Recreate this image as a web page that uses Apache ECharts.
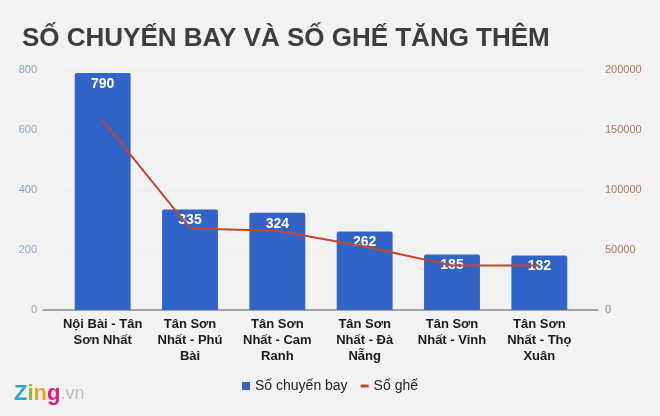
<!DOCTYPE html>
<html>
<head>
<meta charset="utf-8">
<script src="https://cdn.jsdelivr.net/npm/echarts@6/dist/echarts.min.js"></script>
<style>
  html, body { margin: 0; padding: 0; background: #f2f2f2; }
  #chart { width: 660px; height: 416px; }
</style>
</head>
<body>
<div id="chart"></div>
<script>
// dữ liệu
const categories = [
    'Nội Bài - Tân\nSơn Nhất',
    'Tân Sơn\nNhất - Phú\nBài',
    'Tân Sơn\nNhất - Cam\nRanh',
    'Tân Sơn\nNhất - Đà\nNẵng',
    'Tân Sơn\nNhất - Vinh',
    'Tân Sơn\nNhất - Thọ\nXuân'
];
const flights = [790, 335, 324, 262, 185, 182];   // Số chuyến bay
const seats = [158000, 68000, 66000, 53000, 37000, 37000]; // Số ghế

const FONT = 'Liberation Sans, Arial, sans-serif';

const chart = echarts.init(document.getElementById('chart'));

chart.setOption({
    backgroundColor: '#f2f2f2',
    animation: false,
    textStyle: { fontFamily: FONT },
    title: {
        text: 'SỐ CHUYẾN BAY VÀ SỐ GHẾ TĂNG THÊM',
        left: 17,
        top: 21,
        textStyle: { fontFamily: FONT, fontSize: 26, fontWeight: 'bold', color: '#3d3d3d' }
    },
    legend: {
        data: [
            { name: 'Số chuyến bay', icon: 'rect' },
            { name: 'Số ghế', icon: 'path://M0,0h8v3h-8z' }
        ],
        bottom: 18,
        left: 'center',
        itemWidth: 8,
        itemHeight: 8,
        itemGap: 13,
        textStyle: { fontFamily: FONT, fontSize: 14, color: '#222' }
    },
    grid: [
        { left: 59, right: 77, top: 70, bottom: 106 },
        { left: 43, right: 62, top: 70, bottom: 106 }
    ],
    xAxis: [
        {
            type: 'category',
            gridIndex: 0,
            data: categories,
            axisLine: { show: false },
            axisTick: { show: false },
            axisLabel: {
                interval: 0,
                margin: 6,
                fontFamily: FONT,
                fontSize: 13,
                fontWeight: 'bold',
                lineHeight: 16,
                color: '#1a1a1a'
            }
        },
        {
            // chỉ để vẽ đường trục dài hơn vùng cột
            type: 'value',
            gridIndex: 1,
            min: 0,
            max: 1,
            axisLine: { show: true, onZero: false, lineStyle: { color: '#8c8c8c', width: 1.5 } },
            axisTick: { show: false },
            axisLabel: { show: false },
            splitLine: { show: false }
        }
    ],
    yAxis: [
        {
            type: 'value',
            gridIndex: 0,
            min: 0,
            max: 800,
            interval: 200,
            axisLine: { show: false },
            axisTick: { show: false },
            axisLabel: { margin: 22, fontFamily: FONT, fontSize: 11, color: '#8aa5d3' },
            splitLine: { lineStyle: { color: '#eeeeee' } }
        },
        {
            type: 'value',
            gridIndex: 0,
            min: 0,
            max: 200000,
            interval: 50000,
            axisLine: { show: false },
            axisTick: { show: false },
            axisLabel: {
                margin: 22,
                fontFamily: FONT,
                fontSize: 11,
                color: '#b6735f',
                formatter: v => String(v)
            },
            splitLine: { show: false }
        },
        {
            type: 'value',
            gridIndex: 1,
            show: false
        }
    ],
    series: [
        {
            name: 'Số chuyến bay',
            type: 'bar',
            data: flights,
            barCategoryGap: '36%',
            itemStyle: { color: '#3264c8', borderRadius: [2, 2, 0, 0] },
            label: {
                show: true,
                position: 'insideTop',
                distance: 4,
                fontFamily: FONT,
                fontSize: 14,
                fontWeight: 'bold',
                color: '#ffffff'
            },
            z: 2
        },
        {
            name: 'Số ghế',
            type: 'line',
            yAxisIndex: 1,
            data: seats,
            smooth: false,
            symbol: 'none',
            lineStyle: { color: '#c4462c', width: 2 },
            itemStyle: { color: '#c4462c' },
            z: 3
        }
    ],
    graphic: [
        {
            type: 'text',
            left: 14,
            top: 383,
            style: {
                text: '{z|Z}{i|i}{n|n}{g|g}{v|.vn}',
                rich: {
                    z: { fontFamily: FONT, fontSize: 22, fontWeight: 'bold', fill: '#2ea3df' },
                    i: { fontFamily: FONT, fontSize: 22, fontWeight: 'bold', fill: '#7cc242' },
                    n: { fontFamily: FONT, fontSize: 22, fontWeight: 'bold', fill: '#f5a01c' },
                    g: { fontFamily: FONT, fontSize: 22, fontWeight: 'bold', fill: '#e31c79' },
                    v: { fontFamily: FONT, fontSize: 18, fill: '#bdbdbd' }
                }
            }
        }
    ]
});
</script>
</body>
</html>
